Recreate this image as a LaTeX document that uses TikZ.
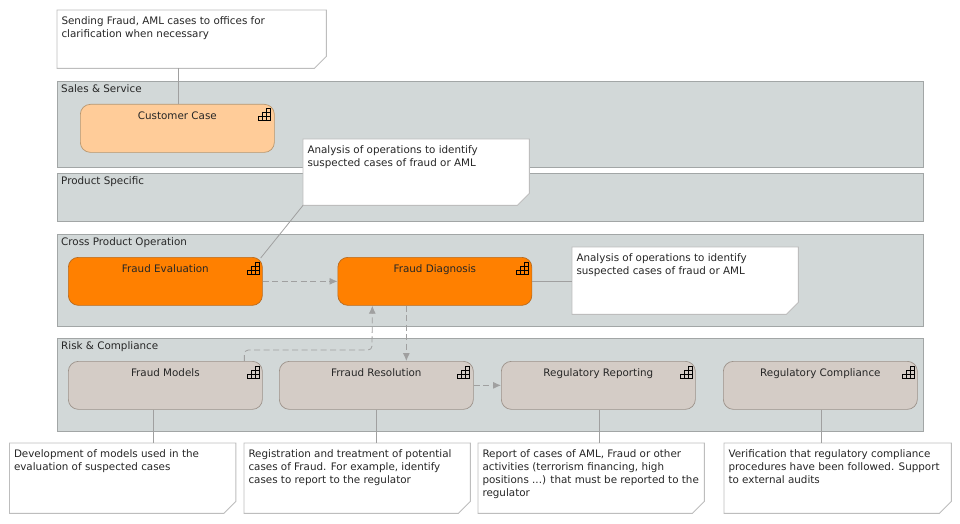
\documentclass[tikz,border=0pt]{standalone}
\usepackage{fontspec}
\setmainfont{DejaVu Sans}
\usetikzlibrary{positioning}
\usetikzlibrary{arrows.meta}
\definecolor{panelgray}{HTML}{D2D8D8}
\definecolor{panelline}{HTML}{A2A6A6}
\definecolor{noteline}{HTML}{BDBDBD}
\definecolor{linkgray}{HTML}{A0A0A0}
\definecolor{peach}{HTML}{FFCC99}
\definecolor{peachline}{HTML}{B8966E}
\definecolor{bizorange}{HTML}{FF8000}
\definecolor{orangeline}{HTML}{B86A1E}
\definecolor{beige}{HTML}{D4CCC6}
\definecolor{beigeline}{HTML}{9C928A}
\tikzset{mytext/.style={font=\fontsize{10.35}{13}\selectfont, text=black!85, inner sep=0pt, align=left}}
\tikzset{mypanel/.style={draw=panelline, line width=0.9pt, fill=panelgray, anchor=north west, minimum width=866pt, inner sep=0pt}}
\tikzset{mytitle/.style={mytext, anchor=north west, xshift=4pt, yshift=-3.8pt}}
\tikzset{mybox/.style={draw, line width=0.7pt, rounded corners=10pt, anchor=north west, minimum width=194pt, minimum height=48pt, inner sep=0pt}}
\tikzset{myboxLabel/.style={mytext, anchor=base, yshift=-15pt}}
\tikzset{mynote/.style={anchor=north west, minimum width=226pt, minimum height=70pt, inner sep=0pt}}
\tikzset{mynoteEdge/.style={draw=noteline, line width=0.9pt, fill=white}}
\tikzset{mynoteText/.style={mytext, anchor=north west, xshift=4.3pt, yshift=-6.5pt}}
\tikzset{mylink/.style={draw=linkgray, line width=0.8pt}}
\tikzset{myflow/.style={draw=linkgray, line width=0.8pt, dash pattern=on 6pt off 3.5pt, -{Latex[length=8pt,width=7pt,fill=linkgray]}}}
\tikzset{stairs/.pic={
\draw[black, line width=0.5pt] (8,0) rectangle (12,4)
 (4,4) rectangle (8,8) (8,4) rectangle (12,8)
 (0,8) rectangle (4,12) (4,8) rectangle (8,12) (8,8) rectangle (12,12);
}}
% outline of a note with its cut corner
\newcommand{\noteEdge}[1]{\path[mynoteEdge] (#1.north west) -- (#1.north east) -- ([yshift=12pt]#1.south east) -- ([xshift=-12pt]#1.south east) -- (#1.south west) -- cycle;}
\begin{document}
\begin{tikzpicture}[x=1pt, y=-1pt]
\useasboundingbox (0,0) rectangle (960,524);

\node[mypanel, minimum height=86pt] (sales) at (57,81) {};
\node[mypanel, minimum height=48pt] (product) at (57,173) {};
\node[mypanel, minimum height=92pt] (cross) at (57,234) {};
\node[mypanel, minimum height=93pt] (risk) at (57,338) {};

\node[mytitle] (salesT) at (sales.north west) {Sales \& Service};
\node[mytitle] (productT) at (product.north west) {Product Specific};
\node[mytitle] (crossT) at (cross.north west) {Cross Product Operation};
\node[mytitle] (riskT) at (risk.north west) {Risk \& Compliance};

\node[mybox, fill=peach, draw=peachline] (customer) at (80,104) {};
\node[mybox, fill=bizorange, draw=orangeline] (evaluation) at (68,257) {};
\node[mybox, fill=bizorange, draw=orangeline] (diagnosis) at (337.5,257) {};
\node[mybox, fill=beige, draw=beigeline] (models) at (68,361) {};
\node[mybox, fill=beige, draw=beigeline] (resolution) at (279,361) {};
\node[mybox, fill=beige, draw=beigeline] (reporting) at (501,361) {};
\node[mybox, fill=beige, draw=beigeline] (compliance) at (723,361) {};

\node[myboxLabel] (customerT) at (customer.north) {Customer Case};
\node[myboxLabel] (evaluationT) at (evaluation.north) {Fraud Evaluation};
\node[myboxLabel] (diagnosisT) at (diagnosis.north) {Fraud Diagnosis};
\node[myboxLabel] (modelsT) at (models.north) {Fraud Models};
\node[myboxLabel] (resolutionT) at (resolution.north) {Frraud Resolution};
\node[myboxLabel] (reportingT) at (reporting.north) {Regulatory Reporting};
\node[myboxLabel] (complianceT) at (compliance.north) {Regulatory Compliance};

\pic at (258.5,108.5) {stairs};
\pic at (247,262) {stairs};
\pic at (516,262) {stairs};
\pic at (247,366) {stairs};
\pic at (457.5,366) {stairs};
\pic at (680,366) {stairs};
\pic at (902,366) {stairs};

\node[mynote, minimum width=269pt, minimum height=58pt] (noteCustomer) at (57,10) {};
\node[mynote, minimum height=66pt] (noteEvaluation) at (303,139) {};
\node[mynote, minimum height=67pt] (noteDiagnosis) at (572,247) {};
\node[mynote] (noteModels) at (9.5,443) {};
\node[mynote] (noteResolution) at (244,443) {};
\node[mynote] (noteReporting) at (478,443) {};
\node[mynote, minimum width=227pt] (noteCompliance) at (724,443) {};

\noteEdge{noteCustomer}
\noteEdge{noteEvaluation}
\noteEdge{noteDiagnosis}
\noteEdge{noteModels}
\noteEdge{noteResolution}
\noteEdge{noteReporting}
\noteEdge{noteCompliance}

\node[mynoteText] (noteCustomerT) at (noteCustomer.north west) {Sending Fraud, AML cases to offices for\\clarification when necessary};
\node[mynoteText] (noteEvaluationT) at (noteEvaluation.north west) {Analysis of operations to identify\\suspected cases of fraud or AML};
\node[mynoteText] (noteDiagnosisT) at (noteDiagnosis.north west) {Analysis of operations to identify\\suspected cases of fraud or AML};
\node[mynoteText] (noteModelsT) at (noteModels.north west) {Development of models used in the\\evaluation of suspected cases};
\node[mynoteText] (noteResolutionT) at (noteResolution.north west) {Registration and treatment of potential\\cases of Fraud. For example, identify\\cases to report to the regulator};
\node[mynoteText] (noteReportingT) at (noteReporting.north west) {Report of cases of AML, Fraud or other\\activities (terrorism financing, high\\positions ...) that must be reported to the\\regulator};
\node[mynoteText] (noteComplianceT) at (noteCompliance.north west) {Verification that regulatory compliance\\procedures have been followed. Support\\to external audits};

\draw[mylink] ([xshift=1pt]customer.north) -- ([xshift=1pt]customer.north |- noteCustomer.south);
\draw[mylink] ([xshift=-2pt,yshift=-1pt]evaluation.north east) -- (noteEvaluation.south west);
\draw[mylink] (diagnosis.east) -- (noteDiagnosis.west |- diagnosis.east);
\draw[mylink] ([xshift=-12pt]models.south) -- ([xshift=-12pt]models.south |- noteModels.north);
\draw[mylink] (resolution.south) -- (resolution.south |- noteResolution.north);
\draw[mylink] ([xshift=1pt]reporting.south) -- ([xshift=1pt]reporting.south |- noteReporting.north);
\draw[mylink] ([xshift=1pt]compliance.south) -- ([xshift=1pt]compliance.south |- noteCompliance.north);

\draw[myflow] (evaluation.east) -- (diagnosis.west);
\draw[myflow] (resolution.east) -- (reporting.west);
\draw[myflow] ([xshift=-28.5pt]diagnosis.south) -- ([xshift=-28.5pt]diagnosis.south |- resolution.north);
\draw[myflow, rounded corners=4pt] ([xshift=79pt]models.north) |- (372,350) -- ([xshift=-62.5pt]diagnosis.south);

\end{tikzpicture}
\end{document}
